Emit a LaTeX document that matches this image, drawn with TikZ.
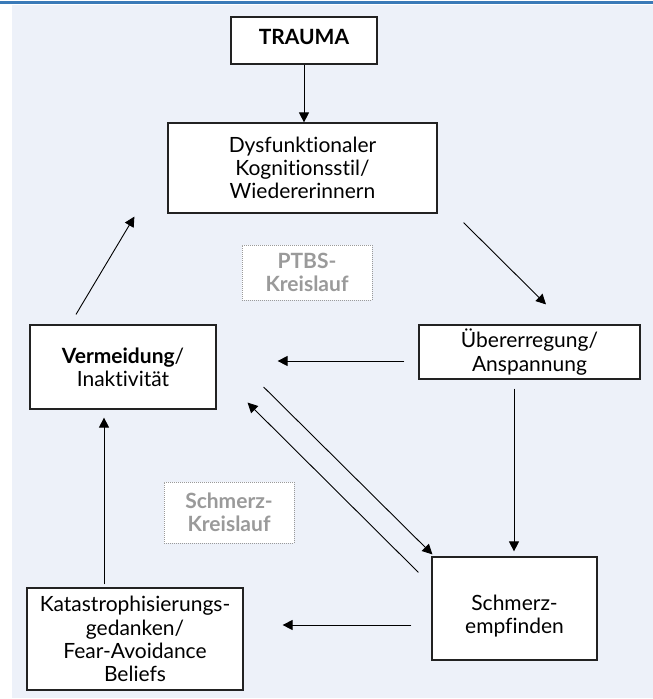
\documentclass[tikz,border=0pt]{standalone}
\usepackage{fontspec}
\setmainfont{Lato}[Ligatures=NoCommon]
\usepackage{tikz}
\usetikzlibrary{arrows.meta}

\definecolor{panelbg}{HTML}{EDF1F9}
\definecolor{rulebl}{HTML}{3A7AB8}
\definecolor{boxline}{HTML}{222222}
\definecolor{labgray}{HTML}{9A9A9A}

\tikzset{
  stepbox/.style={draw=boxline, line width=1.2pt, fill=white,
    align=center, inner sep=0pt,
    font=\fontsize{21}{23.3}\selectfont},
  loopbox/.style={draw=labgray, densely dotted, line width=1pt, fill=white,
    align=center, inner sep=0pt, text=labgray,
    font=\fontsize{21}{23.3}\selectfont\bfseries},
  arr/.style={-{Triangle[length=10pt, width=10pt]}, line width=0.9pt},
}

\begin{document}
\begin{tikzpicture}[x=1pt, y=-1pt]
  \useasboundingbox (0,0) rectangle (653,699);
  \fill[panelbg] (12,5) rectangle (653,698);
  \draw[rulebl, line width=2.6pt] (0,2.5) -- (653,2.5);

  % boxes
  \node[stepbox, minimum width=146pt, minimum height=47pt, text depth=8pt]
    (trauma) at (304,40.5) {\textbf{TRAUMA}};
  \node[stepbox, minimum width=269pt, minimum height=90pt]
    (dysf) at (302.5,168) {Dysfunktionaler\\Kognitionsstil/\\Wiedererinnern};
  \node[loopbox, minimum width=130pt, minimum height=55pt]
    (ptbs) at (307,272.5) {PTBS-\\Kreislauf};
  \node[stepbox, minimum width=186pt, minimum height=84pt]
    (verm) at (123,367) {\textbf{Vermeidung}/\\Inaktivität};
  \node[stepbox, minimum width=221pt, minimum height=54pt]
    (ueber) at (529.5,352) {Übererregung/\\Anspannung};
  \node[loopbox, minimum width=130pt, minimum height=61pt]
    (schmkr) at (229,512.5) {Schmerz-\\Kreislauf};
  \node[stepbox, minimum width=216pt, minimum height=102pt]
    (kat) at (135,639) {Katastrophisierungs-\\gedanken/\\Fear-Avoidance\\Beliefs};
  \node[stepbox, minimum width=165pt, minimum height=103pt]
    (schmerz) at (514.5,608.5) {\rule{0pt}{30pt}Schmerz-\\empfinden};

  % connectors
  \draw[arr] (trauma.south) -- (dysf.north -| trauma.south);
  \draw[arr] ([shift={(26,9)}]dysf.south east) -- ([shift={(16.5,-20)}]ueber.north);
  \draw[arr] ([shift={(-47,-10)}]verm.north) -- ([shift={(-33,3)}]dysf.south west);
  \draw[arr] ([shift={(-14,9)}]ueber.west) -- ([shift={(61,-6)}]verm.east);
  \draw[arr] ([shift={(47,20)}]verm.east) -- ([shift={(1,-2)}]schmerz.north west);
  \draw[arr] ([shift={(-13,16)}]schmerz.north west) -- ([shift={(31,-7)}]verm.south east);
  \draw[arr] ([shift={(-15.5,9)}]ueber.south) -- ([shift={(-0.5,-5)}]schmerz.north);
  \draw[arr] ([shift={(-20,16.5)}]schmerz.west) -- ([shift={(39,-14)}]kat.east);
  \draw[arr] ([shift={(-31,-3)}]kat.north) -- ([shift={(-19,8)}]verm.south);
\end{tikzpicture}
\end{document}
